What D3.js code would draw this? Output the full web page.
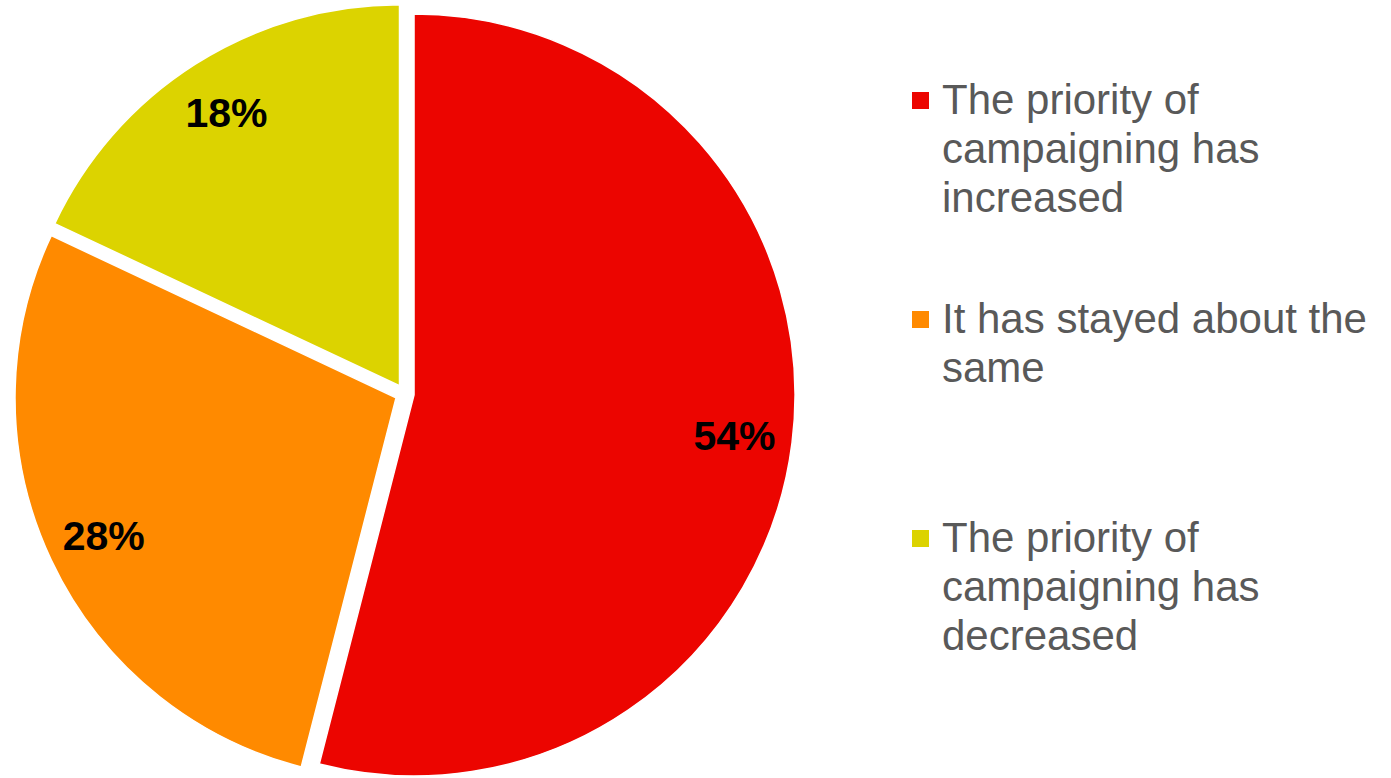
<!DOCTYPE html>
<html>
<head>
<meta charset="utf-8">
<script src="https://cdn.jsdelivr.net/npm/d3@7"></script>
<style>
  html, body { margin: 0; padding: 0; background: #ffffff; }
  svg { display: block; }
</style>
</head>
<body>
<svg id="chart" width="1391" height="778"></svg>
<script>
// Survey answers: how the priority of campaigning has changed
const categories = [
  "The priority of campaigning has increased",
  "It has stayed about the same",
  "The priority of campaigning has decreased"
];
const shares = [54, 28, 18];
const legendLines = [
  ["The priority of", "campaigning has", "increased"],
  ["It has stayed about the", "same"],
  ["The priority of", "campaigning has", "decreased"]
];
const colors = ["#EC0500", "#FF8A00", "#DCD300"];

const width = 1391, height = 778;
const cx = 404.6, cy = 393.8;      // pie centre
const radius = 381;
const explode = 9.5;               // distance each slice is pulled out
const labelRadius = 323;           // label distance from a slice's own apex

const svg = d3.select("#chart");

const data = categories.map((c, i) => ({ name: c, value: shares[i], color: colors[i], lines: legendLines[i] }));

const pie = d3.pie().value(d => d.value).sort(null).startAngle(0).endAngle(2 * Math.PI);
const arc = d3.arc().innerRadius(0).outerRadius(radius);
const arcs = pie(data);

const pieG = svg.append("g").attr("transform", `translate(${cx},${cy})`);

const mid = d => (d.startAngle + d.endAngle) / 2;

const slice = pieG.selectAll("g.slice")
  .data(arcs)
  .join("g")
  .attr("class", "slice")
  .attr("transform", d => {
    const a = mid(d);
    return `translate(${explode * Math.sin(a)},${-explode * Math.cos(a)})`;
  });

slice.append("path")
  .attr("d", arc)
  .attr("fill", d => d.data.color)
  .attr("stroke", "#ffffff")
  .attr("stroke-width", 1.5);

slice.append("text")
  .attr("x", d => labelRadius * Math.sin(mid(d)))
  .attr("y", d => -labelRadius * Math.cos(mid(d)))
  .attr("dy", "0.35em")
  .attr("text-anchor", "middle")
  .attr("font-family", "Liberation Sans, Arial, sans-serif")
  .attr("font-weight", "bold")
  .attr("font-size", 41)
  .attr("fill", "#000000")
  .text(d => d3.format("d")(d.data.value) + "%");

// Legend
const legend = svg.append("g").attr("transform", "translate(912,0)");
const legendBase = d3.scaleLinear().domain([0, 2]).range([114, 552]);
const lineHeight = 49;

const item = legend.selectAll("g.item")
  .data(data)
  .join("g")
  .attr("class", "item")
  .attr("transform", (d, i) => `translate(0,${legendBase(i)})`);

item.append("rect")
  .attr("x", 0)
  .attr("y", -22)
  .attr("width", 17)
  .attr("height", 17)
  .attr("fill", d => d.color);

item.append("text")
  .attr("font-family", "Liberation Sans, Arial, sans-serif")
  .attr("font-size", 42)
  .attr("fill", "#595959")
  .selectAll("tspan")
  .data(d => d.lines)
  .join("tspan")
  .attr("x", 30)
  .attr("y", (l, j) => j * lineHeight)
  .text(l => l);
</script>
</body>
</html>
